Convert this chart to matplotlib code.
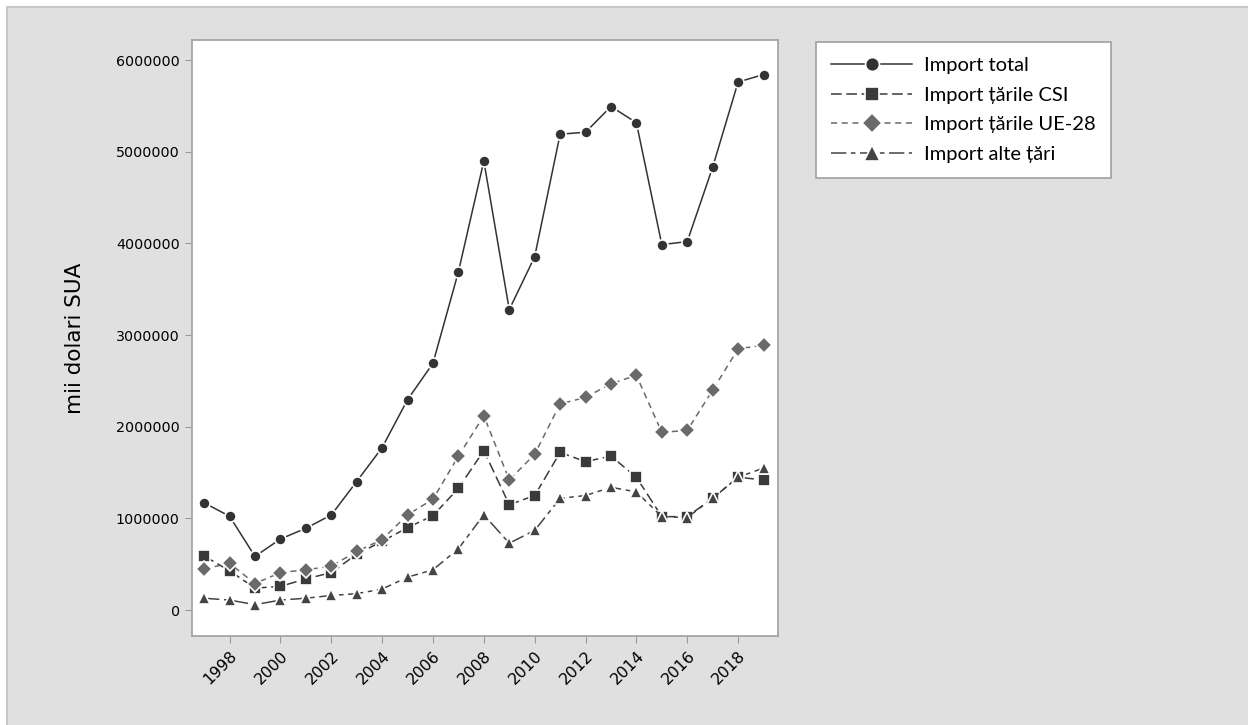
import matplotlib
matplotlib.use("Agg")
import matplotlib.pyplot as plt
from matplotlib.patches import Rectangle

# Moldova imports, thousand USD
years = list(range(1997, 2020))
import_total = [1171000, 1024000, 586000, 776000, 893000, 1038000, 1403000, 1773000,
                2296000, 2693000, 3690000, 4899000, 3278000, 3855000, 5191000, 5213000,
                5493000, 5317000, 3987000, 4020000, 4831000, 5760000, 5842000]
import_csi = [590000, 430000, 240000, 260000, 340000, 410000, 610000, 750000,
              900000, 1030000, 1330000, 1740000, 1150000, 1250000, 1720000, 1620000,
              1680000, 1450000, 1020000, 1020000, 1220000, 1450000, 1420000]
import_ue28 = [450000, 510000, 290000, 410000, 440000, 480000, 640000, 770000,
               1040000, 1210000, 1680000, 2120000, 1420000, 1700000, 2250000, 2320000,
               2470000, 2560000, 1940000, 1960000, 2400000, 2850000, 2890000]
import_alte = [130000, 110000, 60000, 110000, 130000, 160000, 180000, 230000,
               360000, 440000, 670000, 1040000, 730000, 870000, 1220000, 1250000,
               1340000, 1290000, 1020000, 1010000, 1220000, 1450000, 1550000]
labels = ["Import total", "Import țările CSI", "Import țările UE-28", "Import alte țări"]
xticks = list(range(1998, 2019, 2))
yticks = [0, 1000000, 2000000, 3000000, 4000000, 5000000, 6000000]

plt.rcParams['font.family'] = ['DejaVu Sans']

W, H = 1248, 725
fig = plt.figure(figsize=(W / 100, H / 100), dpi=100)
fig.patch.set_facecolor("white")
# grey graph region, thin border only visible on top/left
fig.patches.append(Rectangle((7 / W, -0.1), 1.2, 1.1 - 7 / H, transform=fig.transFigure,
                             facecolor="#e0e0e0", edgecolor="#c8c8c8", linewidth=1.5,
                             zorder=-5))

ax = fig.add_axes([0.154, 0.123, 0.469, 0.822])
ax.set_facecolor("white")

common = dict(markeredgecolor="white", markeredgewidth=1.2, linewidth=1.1)
ax.plot(years, import_total, color="#333333", linestyle="-", marker="o",
        markersize=8, label=labels[0], **common)
ax.plot(years, import_csi, color="#3a3a3a", linestyle=(0, (7, 3)), marker="s",
        markersize=8, label=labels[1], **common)
ax.plot(years, import_ue28, color="#6a6a6a", linestyle=(0, (4, 3)), marker="D",
        markersize=8, label=labels[2], **common)
ax.plot(years, import_alte, color="#444444", linestyle=(0, (10, 3, 3, 3)), marker="^",
        markersize=9, label=labels[3], **common)

ax.set_xlim(1996.53, 2019.55)
ax.set_ylim(-280000, 6220000)
ax.set_xticks(xticks)
ax.set_xticklabels([str(y) for y in xticks], rotation=45, ha="right",
                   rotation_mode="anchor", fontsize=11.3)
ax.set_yticks(yticks)
ax.set_yticklabels([str(v) for v in yticks], fontsize=10.3)
ax.tick_params(color="#999999", length=5, pad=4)
for s in ax.spines.values():
    s.set_color("#a0a0a0")
    s.set_linewidth(1.2)
ax.set_ylabel("mii dolari SUA", fontsize=15.5, labelpad=22)

leg = fig.legend(loc="upper left", bbox_to_anchor=(0.646, 0.956),
                 frameon=True, fancybox=False, handlelength=4.0, labelspacing=0.62,
                 borderpad=0.75, handletextpad=0.6, markerscale=1.25,
                 prop={"family": "Lato", "size": 14.5})
leg.get_frame().set_edgecolor("#a0a0a0")
leg.get_frame().set_facecolor("white")
leg.get_frame().set_alpha(1)
leg.get_frame().set_linewidth(1.2)

fig.savefig("out.png", dpi=100, facecolor=fig.get_facecolor())
